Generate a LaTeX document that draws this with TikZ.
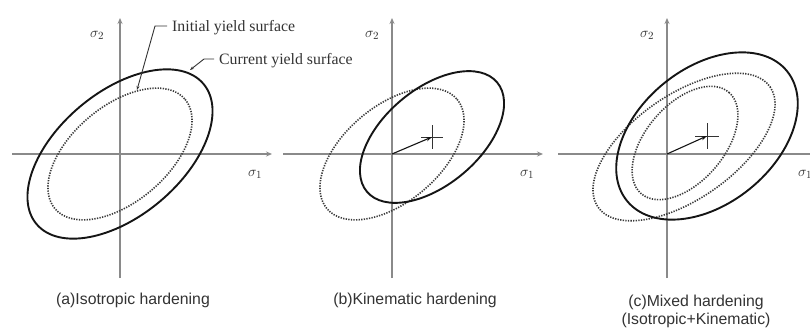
\documentclass[tikz,border=0pt]{standalone}
\usepackage{fontspec}
\setmainfont{Liberation Serif}
\setsansfont{Liberation Sans}
\usetikzlibrary{arrows.meta}
\definecolor{axisgray}{HTML}{8A8A8A}
\definecolor{inkdark}{HTML}{151515}
\definecolor{dotgray}{HTML}{3A3A3A}
\definecolor{textgray}{HTML}{333333}
\begin{document}
\begin{tikzpicture}[x=1pt,y=-1pt,
  axisline/.style={draw=axisgray, line width=2pt, -{Stealth[length=6pt,width=5pt]}},
  solidsurf/.style={draw=inkdark, line width=1.9pt},
  dotsurf/.style={draw=dotgray, line width=1.6pt, dash pattern=on 1.3pt off 1.3pt},
  crossmark/.style={draw=textgray, line width=0.9pt},
  backvec/.style={draw=inkdark, line width=1.1pt, -{Stealth[length=6pt,width=4pt]}},
  leader/.style={draw=textgray, line width=0.9pt, -{Stealth[length=4pt,width=3pt]}},
  sigmalab/.style={text=textgray, inner sep=0pt, font=\fontsize{15}{15}\selectfont},
  anno/.style={text=textgray, inner sep=0pt, anchor=west, font=\fontsize{15.8}{15.8}\selectfont},
  caption/.style={text=textgray, inner sep=0pt, font=\sffamily\fontsize{15.8}{15.8}\selectfont}]
\useasboundingbox[fill=white] (0,0) rectangle (810,331);

% ---------- panel (a)
\coordinate (Oa) at (120,154);
\coordinate (aL) at (12,154);
\coordinate (aR) at (272,154);
\coordinate (aB) at (120,278);
\coordinate (aT) at (120,18);
\draw[axisline] (aL) -- (aR);
\draw[axisline] (aB) -- (aT);
\node[sigmalab] (sa2) at (97,35) {$\sigma_2$};
\node[sigmalab] (sa1) at (255,174) {$\sigma_1$};
\draw[solidsurf, rotate around={40:(Oa)}] (Oa) ellipse [x radius=109, y radius=62];
\draw[dotsurf, rotate around={40:(Oa)}] (Oa) ellipse [x radius=85, y radius=48];
\node[anno] (ini) at (172,28) {Initial yield surface};
\node[anno] (cur) at (219,61) {Current yield surface};
\coordinate (iniend) at (137,90);
\coordinate (curend) at (190,70);
\draw[leader] ([xshift=-5pt,yshift=2pt]ini.west) -- ++(-12,0) -- (iniend);
\draw[leader] ([xshift=-5pt,yshift=2pt]cur.west) -- ++(-10,0) -- (curend);
\node[caption] (capa) at (133,300) {(a)Isotropic hardening};

% ---------- panel (b)
\coordinate (Ob) at (392,154);
\coordinate (bL) at (283,154);
\coordinate (bR) at (543,154);
\coordinate (bB) at (392,278);
\coordinate (bT) at (392,18);
\draw[axisline] (bL) -- (bR);
\draw[axisline] (bB) -- (bT);
\node[sigmalab] (sb2) at (372,35) {$\sigma_2$};
\node[sigmalab] (sb1) at (527,174) {$\sigma_1$};
\coordinate (Cb) at (432,137);
\draw[dotsurf, rotate around={40:(Ob)}] (Ob) ellipse [x radius=85, y radius=48];
\draw[solidsurf, rotate around={40:(Cb)}] (Cb) ellipse [x radius=85, y radius=48];
\draw[crossmark] ([xshift=-11pt]Cb) -- ([xshift=11pt]Cb);
\draw[crossmark] ([yshift=-12pt]Cb) -- ([yshift=12pt]Cb);
\draw[backvec] (Ob) -- (Cb);
\node[caption] (capb) at (415,300) {(b)Kinematic hardening};

% ---------- panel (c)
\coordinate (Oc) at (667,154);
\coordinate (cL) at (558,154);
\coordinate (cR) at (818,154);
\coordinate (cB) at (667,278);
\coordinate (cT) at (667,18);
\draw[axisline] (cL) -- (cR);
\draw[axisline] (cB) -- (cT);
\node[sigmalab] (sc2) at (647,35) {$\sigma_2$};
\node[sigmalab] (sc1) at (805,174) {$\sigma_1$};
\coordinate (Cc) at (707,136);
\coordinate (Dl) at (684,147);
\coordinate (Ds) at (685,143);
\draw[dotsurf, rotate around={35:(Dl)}] (Dl) ellipse [x radius=105, y radius=52];
\draw[dotsurf, rotate around={49:(Ds)}] (Ds) ellipse [x radius=67, y radius=39];
\draw[solidsurf, rotate around={39:(Cc)}] (Cc) ellipse [x radius=103, y radius=68];
\draw[crossmark] ([xshift=-12pt]Cc) -- ([xshift=12pt]Cc);
\draw[crossmark] ([yshift=-13pt]Cc) -- ([yshift=13pt]Cc);
\draw[backvec] (Oc) -- (Cc);
\node[caption] (capc1) at (696,302) {(c)Mixed hardening};
\node[caption] (capc2) at (696,320) {(Isotropic+Kinematic)};
\end{tikzpicture}
\end{document}
